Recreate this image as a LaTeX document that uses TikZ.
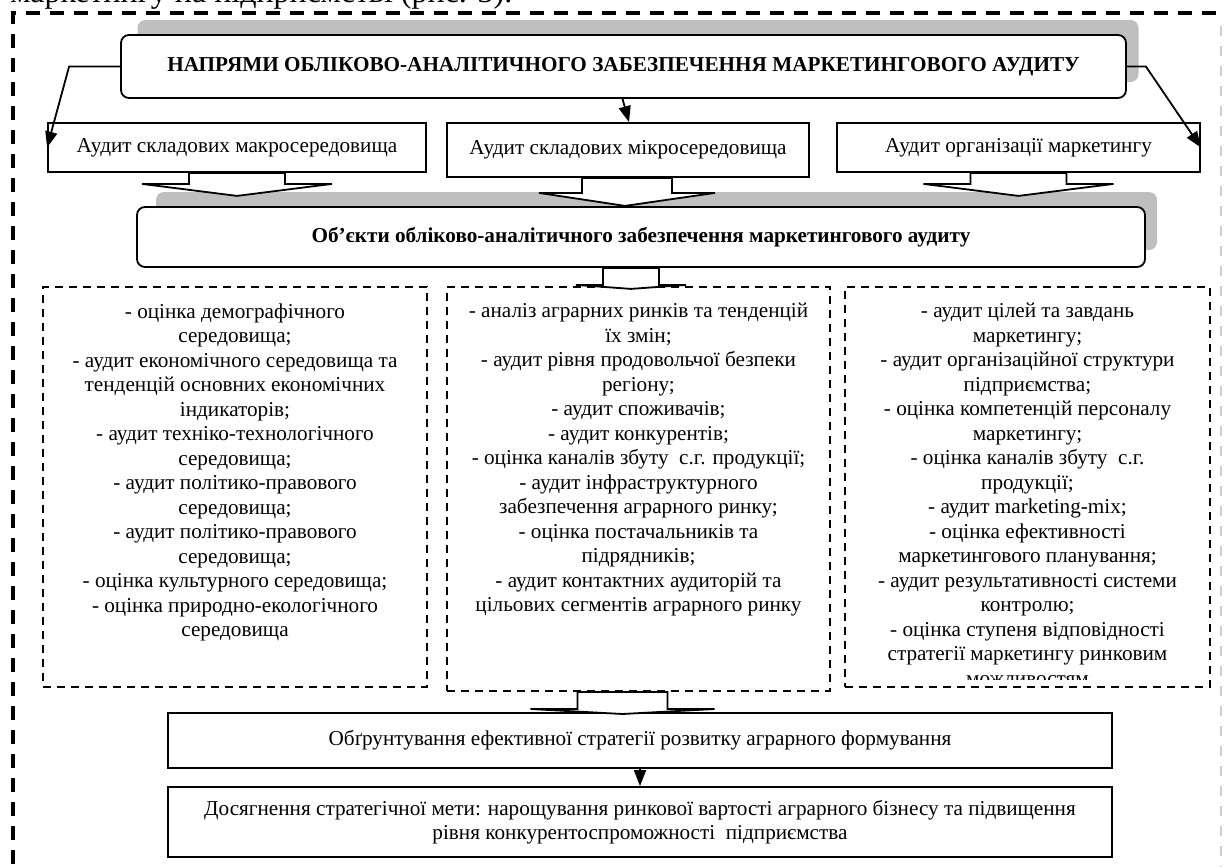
\documentclass[tikz,border=0pt]{standalone}
\usepackage{fontspec}
\setmainfont{Liberation Serif}
\usepackage{tikz}
\usetikzlibrary{arrows.meta,calc}
\definecolor{shadowgray}{RGB}{191,191,191}
\definecolor{framegray}{RGB}{205,205,205}

\begin{document}
\begin{tikzpicture}[x=0.5pt,y=-0.5pt,
    txt/.style={font=\fontsize{10.6pt}{12.25pt}\selectfont},
    box/.style={draw, line width=0.9pt, fill=white, inner sep=0pt, align=center, txt},
    roundbox/.style={box, rounded corners=4pt},
    shadowbox/.style={fill=shadowgray, rounded corners=4pt, inner sep=0pt},
    listbox/.style={draw, line width=1pt, dash pattern=on 4pt off 3pt, inner sep=0pt},
    listtext/.style={txt, align=center, anchor=north, inner sep=0pt},
    arr/.style={line width=0.9pt, -{Triangle[length=8pt,width=6pt]}},
    blockarr/.style={line width=0.9pt, fill=white},
    outerdash/.style={line width=1.8pt, dash pattern=on 7pt off 5pt},
    graydash/.style={draw=framegray, line width=0.8pt, dash pattern=on 5pt off 5pt}]
  \useasboundingbox (0,0) rectangle (1226,867);

  % Page frame
  \node[anchor=base west, inner sep=0pt, font=\fontsize{16pt}{18pt}\selectfont] (pagetext) at (10,3) {маркетингу на підприємстві (рис. 3).};
  \draw[outerdash] (1240,13) -- (13,13) -- (13,890);
  \draw[graydash] (1221,26) -- (1221,890);

  % Directions
  \node[shadowbox, minimum width=500.5pt, minimum height=31pt] (titleshadow) at (638,51) {};
  \node[roundbox, minimum width=502.5pt, minimum height=31.5pt, font=\fontsize{10.6pt}{12.25pt}\selectfont\bfseries] (title) at (623.5,66.5)
    {НАПРЯМИ ОБЛІКОВО-АНАЛІТИЧНОГО ЗАБЕЗПЕЧЕННЯ МАРКЕТИНГОВОГО АУДИТУ};

  \node[box, minimum width=189pt, minimum height=24.5pt] (aud1) at (237,147.5) {Аудит складових макросередовища};
  \node[box, minimum width=181pt, minimum height=27pt] (aud2) at (628,150) {Аудит складових мікросередовища};
  \node[box, minimum width=181.5pt, minimum height=24.5pt] (aud3) at (1018.5,147.5) {Аудит організації маркетингу};

  \draw[arr] (title.west) -- ++(-51,0) -- (aud1.west);
  \draw[arr] ($(title.south)+(-1,0)$) -- ($(aud2.north)+(1,0)$);
  \draw[arr] (title.east) -- ++(19,0) -- (aud3.east);

  % Objects
  \node[shadowbox, minimum width=500.5pt, minimum height=29pt] (objshadow) at (656.5,221) {};
  \node[roundbox, minimum width=504pt, minimum height=30pt, font=\fontsize{10.6pt}{12.25pt}\selectfont\bfseries] (obj) at (641,237)
    {Об’єкти обліково-аналітичного забезпечення маркетингового аудиту};

  \filldraw[blockarr] ($(aud1.south)+(-48,0)$) -- ++(0,11) -- ++(-47,0) -- ($(aud1.south)+(0,23)$)
    -- ($(aud1.south)+(95,11)$) -- ++(-47,0) -- ++(0,-11) -- cycle;
  \filldraw[blockarr] ($(aud2.south)+(-46,0)$) -- ++(0,15) -- ++(-43,0) -- ($(aud2.south)+(-3,28)$)
    -- ($(aud2.south)+(87,15)$) -- ++(-43,0) -- ++(0,-15) -- cycle;
  \filldraw[blockarr] ($(aud3.south)+(-48,0)$) -- ++(0,11) -- ++(-47,0) -- ($(aud3.south)+(0,23)$)
    -- ($(aud3.south)+(95,11)$) -- ++(-47,0) -- ++(0,-11) -- cycle;

  % Lists
  \node[listbox, minimum width=192pt, minimum height=200pt] (lbox) at (235,487) {};
  \node[listbox, minimum width=191.5pt, minimum height=202pt] (mbox) at (638.5,489) {};
  \node[listbox, minimum width=182.5pt, minimum height=200pt] (rbox) at (1027.5,487) {};

  \filldraw[blockarr] ($(obj.south)+(-38,0)$) -- ++(0,17) -- ++(-27,0) -- ($(obj.south)+(-10,21)$)
    -- ($(obj.south)+(45,17)$) -- ++(-27,0) -- ++(0,-17) -- cycle;

  \node[listtext] (ltext) at ($(lbox.north)+(0,17)$) {- оцінка демографічного\\ середовища;\\
    - аудит економічного середовища та\\ тенденцій основних економічних\\ індикаторів;\\
    - аудит техніко-технологічного\\ середовища;\\ - аудит політико-правового\\ середовища;\\
    - аудит політико-правового\\ середовища;\\ - оцінка культурного середовища;\\
    - оцінка природно-екологічного\\ середовища};
  \node[listtext] (mtext) at ($(mbox.north)+(0,17)$) {- аналіз аграрних ринків та тенденцій\\ їх змін;\\
    - аудит рівня продовольчої безпеки\\ регіону;\\ - аудит споживачів;\\ - аудит конкурентів;\\
    - оцінка каналів збуту~ с.г. продукції;\\ - аудит інфраструктурного\\
    забезпечення аграрного ринку;\\ - оцінка постачальників та\\ підрядників;\\
    - аудит контактних аудиторій та\\ цільових сегментів аграрного ринку};
  \begin{scope}
    \clip (845,287) rectangle (1210,679);
    \node[listtext] (rtext) at ($(rbox.north)+(0,17)$) {- аудит цілей та завдань\\ маркетингу;\\
      - аудит організаційної структури\\ підприємства;\\ - оцінка компетенцій персоналу\\ маркетингу;\\
      - оцінка каналів збуту~ с.г.\\ продукції;\\ - аудит marketing-mix;\\ - оцінка ефективності\\
      маркетингового планування;\\ - аудит результативності системи\\ контролю;\\
      - оцінка ступеня відповідності\\ стратегії маркетингу ринковим\\ можливостям};
  \end{scope}

  % Strategy
  \node[box, minimum width=472pt, minimum height=27.5pt] (obg) at (640,740.5)
    {Обґрунтування ефективної стратегії розвитку аграрного формування};
  \node[box, minimum width=472pt, minimum height=35pt] (dos) at (640,822)
    {Досягнення стратегічної мети: нарощування ринкової вартості аграрного бізнесу та підвищення\\ рівня конкурентоспроможності~ підприємства};

  \filldraw[blockarr] ($(mbox.south)+(-61,0)$) -- ++(0,17) -- ++(-47,0) -- ($(mbox.south)+(-16,22)$)
    -- ($(mbox.south)+(76,17)$) -- ++(-47,0) -- ++(0,-17) -- cycle;
  \draw[arr] (obg.south) -- (dos.north);
\end{tikzpicture}
\end{document}
